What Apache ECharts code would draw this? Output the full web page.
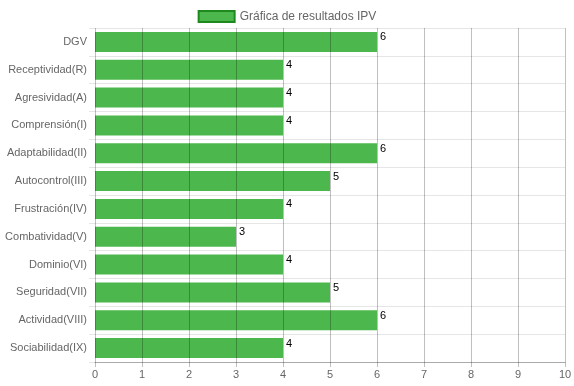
<!DOCTYPE html>
<html><head><meta charset="utf-8">
<script src="https://cdn.jsdelivr.net/npm/echarts@6/dist/echarts.min.js"></script>
<style>html,body{margin:0;padding:0;background:#fff}#c{width:574px;height:386px}</style>
</head><body><div id="c"></div>
<script>
const categories = ['DGV','Receptividad(R)','Agresividad(A)','Comprensión(I)','Adaptabilidad(II)','Autocontrol(III)','Frustración(IV)','Combatividad(V)','Dominio(VI)','Seguridad(VII)','Actividad(VIII)','Sociabilidad(IX)'];
const values = [6,4,4,4,6,5,4,3,4,5,6,4];
const seriesName = 'Gráfica de resultados IPV';
const xTicks = [0,1,2,3,4,5,6,7,8,9,10];

const chart = echarts.init(document.getElementById('c'));
chart.setOption({
  animation: false,
  textStyle: {fontFamily: 'Arial, "Liberation Sans", sans-serif'},
  legend: {
    top: 5, left: 'center',
    icon: 'rect',
    itemWidth: 36, itemHeight: 11, itemGap: 8,
    textStyle: {color: '#666', fontSize: 12},
    data: [{name: seriesName, itemStyle: {color: '#4cb74c', borderColor: '#1e8a1e', borderWidth: 2}}]
  },
  grid: {left: 95, right: 9, top: 28, bottom: 24, containLabel: false, outerBoundsMode: 'none'},
  xAxis: {
    type: 'value', min: xTicks[0], max: xTicks[xTicks.length-1], interval: 1, z: 5,
    axisLine: {show: true, lineStyle: {color: '#aaa'}},
    axisTick: {show: true, length: 5, lineStyle: {color: 'rgba(0,0,0,0.25)'}},
    axisLabel: {color: '#666', fontSize: 11, margin: 7},
    splitLine: {show: true, lineStyle: {color: 'rgba(0,0,0,0.25)'}}
  },
  yAxis: {
    type: 'category', data: categories, inverse: true,
    axisLine: {show: false},
    axisTick: {show: true, length: 6, lineStyle: {color: '#e6e6e6'}},
    axisLabel: {color: '#666', fontSize: 11, margin: 8},
    splitLine: {show: true, lineStyle: {color: '#e6e6e6'}}
  },
  series: [{
    name: seriesName, type: 'bar', data: values, barWidth: 20,
    itemStyle: {color: '#4cb74c'},
    label: {show: true, position: ['100%', 0], offset: [3, 0], align: 'left', verticalAlign: 'top', color: '#000', fontSize: 11, fontFamily: '"Liberation Sans", sans-serif'}
  }]
});
</script></body></html>
